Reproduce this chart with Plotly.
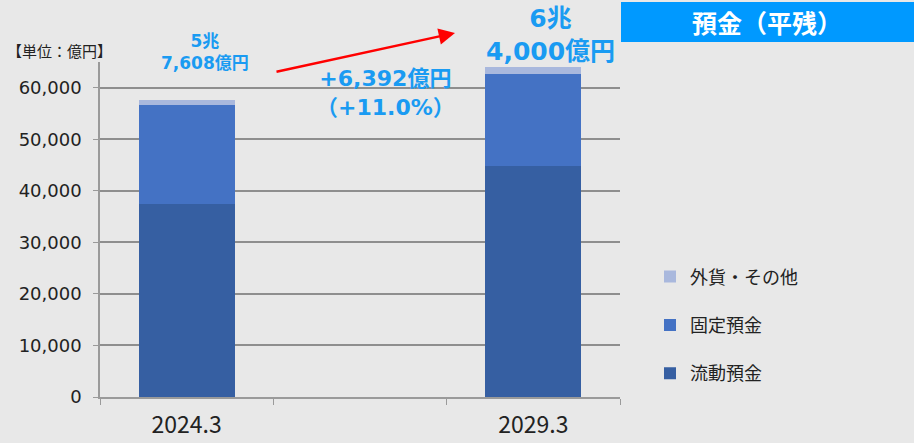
import plotly.graph_objects as go

categories = ["2024.3", " ", "2029.3"]
ryudo = [37500, None, 44900]
kotei = [19200, None, 17700]
gaika = [908, None, 1400]
series_names = ["流動預金", "固定預金", "外貨・その他"]
colors = ["#365FA2", "#4472C4", "#A9B8DD"]
ranks = [3, 2, 1]

CJK = "Noto Sans CJK JP"
NUM = "DejaVu Sans, Noto Sans CJK JP"
fig = go.Figure()
for name, vals, c, r in zip(series_names, [ryudo, kotei, gaika], colors, ranks):
    fig.add_trace(go.Bar(x=categories, y=vals, name=name, marker_color=c,
                         marker_line_width=0, legendgroup=name, legendrank=r))

# plot area: x 100..620 px, y 62..397 px
def px(x):
    return (x - 100) / 520

def py(y):
    return (397 - y) / 335

fig.update_layout(
    width=914, height=443,
    barmode="stack", bargap=0.445,
    paper_bgcolor="#E8E8E8", plot_bgcolor="#E8E8E8",
    margin=dict(l=100, r=294, t=62, b=46),
    font=dict(family=CJK, color="#222", size=16),
    legend=dict(x=px(650), y=0.414, xanchor="left", yanchor="top",
                traceorder="grouped", tracegroupgap=22,
                font=dict(size=18, family=CJK, color="#222"), bgcolor="rgba(0,0,0,0)"),
    showlegend=True,
)
fig.update_yaxes(range=[0, 65000], tickvals=[0, 10000, 20000, 30000, 40000, 50000, 60000],
                 tickformat=",", showgrid=True, gridcolor="#8E8E8E", gridwidth=1.5,
                 showline=True, linecolor="#9A9A9A", linewidth=1.5, automargin=False,
                 ticks="outside", ticklen=5, tickcolor="#9A9A9A", ticklabelstandoff=8,
                 tickfont=dict(size=18, color="#222", family=NUM), zeroline=False)
fig.update_xaxes(showline=True, linecolor="#9A9A9A", linewidth=1.5, automargin=False,
                 ticks="outside", tickson="boundaries", ticklen=6, tickcolor="#9A9A9A",
                 ticklabelstandoff=7,
                 tickfont=dict(size=23, color="#222", family=CJK))

blue = "#1A9BF2"
fig.add_annotation(xref="paper", yref="paper", x=px(5), y=py(50), xanchor="left", yanchor="middle",
                   text="【単位：億円】", showarrow=False, font=dict(size=15, color="#222", family=CJK))
fig.add_annotation(xref="paper", yref="paper", x=px(205), y=py(52), xanchor="center", yanchor="middle",
                   text="<b>5兆<br>7,608億円</b>", showarrow=False,
                   font=dict(size=17, color=blue, family=NUM), align="center")
fig.add_annotation(xref="paper", yref="paper", x=px(550), y=py(35), xanchor="center", yanchor="middle",
                   text="<b>6兆<br>4,000億円</b>", showarrow=False,
                   font=dict(size=25, color=blue, family=NUM), align="center")
fig.add_annotation(xref="paper", yref="paper", x=px(385), y=py(93), xanchor="center", yanchor="middle",
                   text="<b>+6,392億円<br>（+11.0%）</b>", showarrow=False,
                   font=dict(size=22, color=blue, family=NUM), align="center")
fig.add_annotation(xref="paper", yref="paper", x=px(455), y=py(33), ax=-180, ay=39,
                   text="", showarrow=True, arrowcolor="#FF0000", arrowwidth=2.5,
                   arrowhead=2, arrowsize=1.3)
fig.add_shape(type="rect", xref="paper", yref="paper", x0=px(621), x1=px(914),
              y0=py(42), y1=py(2), fillcolor="#0099FF", line_width=0)
fig.add_annotation(xref="paper", yref="paper", x=px(767), y=py(22),
                   xanchor="center", yanchor="middle", text="<b>預金（平残）</b>",
                   showarrow=False, font=dict(size=25, color="white", family=CJK))

fig.write_html("out.html")
